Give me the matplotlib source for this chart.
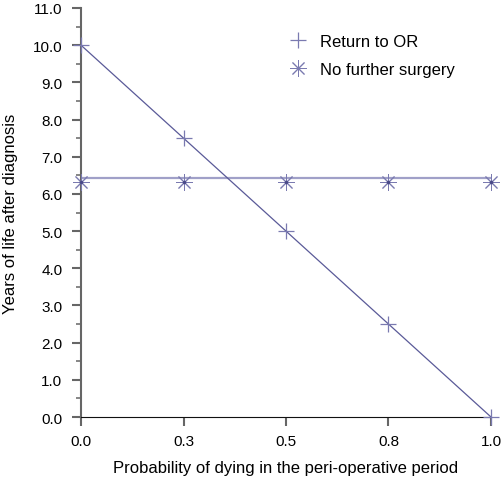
import numpy as np
import matplotlib
matplotlib.use('Agg')
import matplotlib.pyplot as plt

plt.rcParams['font.family'] = ['Liberation Sans', 'DejaVu Sans']

# data
prob = [0.0, 0.25, 0.5, 0.75, 1.0]
return_or = [10.0, 7.5, 5.0, 2.5, 0.0]
no_surgery_pts = [6.32, 6.32, 6.32, 6.32, 6.32]
no_surgery_line = [6.43, 6.43]
xticks = [0.0, 0.25, 0.5, 0.75, 1.0]
xtick_labels = ['0.0', '0.3', '0.5', '0.8', '1.0']
yticks = np.arange(0, 11.5, 1.0)

line_dark = '#5a5a98'
line_light = '#a0a0c8'
mark_col = '#7a7ab0'

fig = plt.figure(figsize=(5.01, 4.81), dpi=100)
ax = fig.add_axes([81/501, 1 - 418/481, 410/501, 409/481])

ax.plot([prob[0], prob[-1]], no_surgery_line, color=line_light, lw=1.6, zorder=2)
ax.plot([prob[0], prob[-1]], [return_or[0], return_or[-1]], color=line_dark, lw=0.9, zorder=3)
ax.plot(prob, return_or, ls='none', marker='+', ms=12, mew=0.9, color=mark_col,
        clip_on=False, zorder=4, label='Return to OR')
ax.plot(prob, no_surgery_pts, ls='none', marker=(8, 2, 0), ms=12, mew=0.7, color=mark_col,
        clip_on=False, zorder=4, label='No further surgery')
ax.plot(prob, no_surgery_pts, ls='none', marker='o', ms=2.5, mew=0, color='#4a4a88',
        clip_on=False, zorder=5)

ax.set_xlim(0, 1)
ax.set_ylim(0, 11)
ax.set_xticks(xticks)
ax.set_xticklabels(xtick_labels)
ax.set_yticks(yticks)
ax.set_yticklabels([f'{v:.1f}' for v in yticks])
ax.set_yticks(np.arange(0.5, 11, 1.0), minor=True)

for s in ['top', 'right']:
    ax.spines[s].set_visible(False)
ax.spines['left'].set_color('#666666')
ax.spines['left'].set_linewidth(1.5)
ax.spines['bottom'].set_color('#111111')
ax.spines['bottom'].set_linewidth(0.8)

ax.tick_params(axis='both', which='major', length=6.5, width=1.5, color='#666666',
               labelsize=11, labelcolor='black')
ax.tick_params(axis='y', which='minor', length=3.5, width=1.1, color='#666666')
ax.tick_params(axis='x', pad=6)
ax.tick_params(axis='y', pad=7)

ax.set_xlabel('Probability of dying in the peri-operative period', fontsize=12)
ax.set_ylabel('Years of life after diagnosis', fontsize=12)
ax.xaxis.set_label_coords(0.5, -50/409, transform=ax.transAxes)
ax.yaxis.set_label_coords(-70/410, 0.5, transform=ax.transAxes)
ax.xaxis.label.set_va('center')
ax.yaxis.label.set_va('center')

ax.legend(loc='upper left', bbox_to_anchor=(0.4885, 0.9535), frameon=False, fontsize=12,
          handlelength=1.2, handletextpad=0.72, labelspacing=0.79, numpoints=1,
          borderaxespad=0)

fig.savefig('out.png', dpi=100)
